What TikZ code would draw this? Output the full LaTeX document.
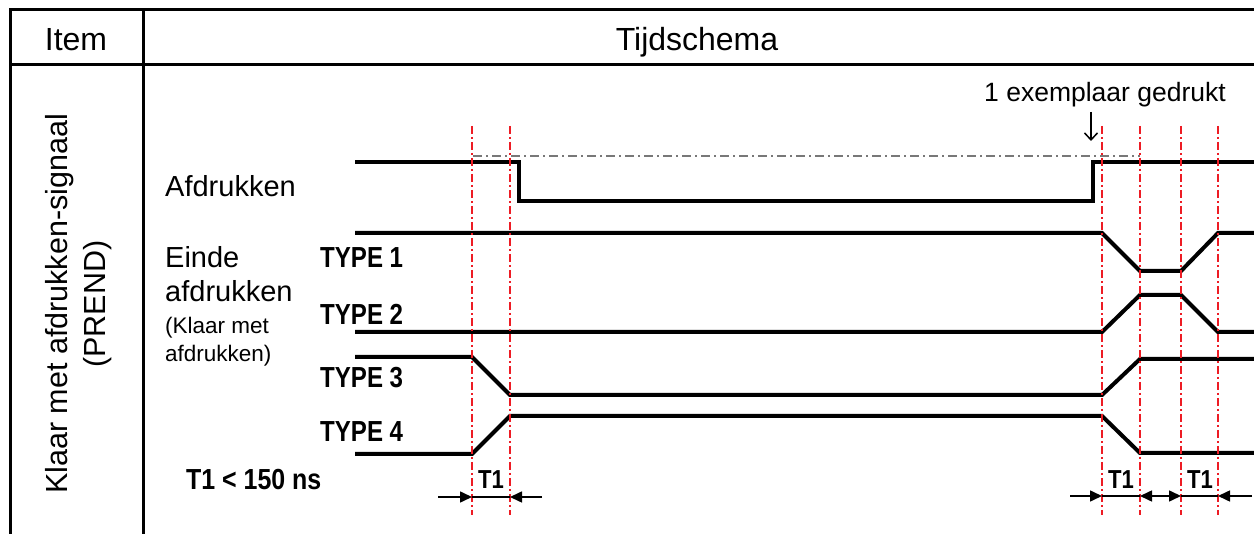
\documentclass[tikz,border=0pt]{standalone}
\usepackage{fontspec}
\setmainfont{Liberation Sans}
\usetikzlibrary{arrows.meta}
\definecolor{rd}{RGB}{237,28,36}
\definecolor{gy}{RGB}{120,120,120}
\begin{document}
\begin{tikzpicture}[x=1pt,y=-1pt,
  tbl/.style={line width=3pt},
  sig/.style={line width=4pt, line join=miter},
  redmark/.style={rd, line width=2.7pt, dash pattern=on 8pt off 3pt on 2pt off 3pt},
  refline/.style={gy, line width=1.3pt, dash pattern=on 9pt off 4pt on 2pt off 4pt},
  dimline/.style={line width=1.6pt},
  dimtip/.style={line width=1.6pt, -{Triangle[length=12pt,width=11pt]}},
  dimtwo/.style={line width=1.6pt, {Triangle[length=12pt,width=11pt]}-{Triangle[length=12pt,width=11pt]}},
  head/.style={inner sep=0pt, font=\fontsize{32}{38}\selectfont},
  big/.style={inner sep=0pt, font=\fontsize{29}{35}\selectfont},
  mid/.style={inner sep=0pt, font=\fontsize{22.5}{27}\selectfont},
  bold/.style={inner sep=0pt, font=\fontsize{29}{35}\selectfont\bfseries},
  tlab/.style={inner sep=0pt, font=\fontsize{26}{30}\selectfont\bfseries}
]
\useasboundingbox (0,0) rectangle (1254,534);
% table
\draw[tbl] (10,534) -- (10,10) -- (1254,10);
\draw[tbl] (10,65) -- (1254,65);
\draw[tbl] (143,10) -- (143,534);
\node[head, anchor=base] (item) at (76,51) {Item};
\node[head, anchor=base] (tijd) at (697,51) {Tijdschema};
\node[inner sep=0pt, font=\fontsize{30.5}{38}\selectfont, rotate=90, anchor=base] (klaar) at (67,304) {Klaar met afdrukken-signaal};
\node[inner sep=0pt, font=\fontsize{30.5}{38}\selectfont, rotate=90, anchor=base] (prend) at (105,304) {(PREND)};
% labels
\node[big, anchor=base west] (afdr) at (165,197) {Afdrukken};
\node[big, anchor=base west] (einde) at (165,268) {Einde};
\node[big, anchor=base west] (afdr2) at (165,302) {afdrukken};
\node[mid, anchor=base west] (kl1) at (165,334) {(Klaar met};
\node[mid, anchor=base west] (kl2) at (165,362) {afdrukken)};
\node[bold, anchor=base west] (t1) at (320,268) {\scalebox{0.83}[1]{TYPE 1}};
\node[bold, anchor=base west] (t2) at (320,325) {\scalebox{0.83}[1]{TYPE 2}};
\node[bold, anchor=base west] (t3) at (320,388) {\scalebox{0.83}[1]{TYPE 3}};
\node[bold, anchor=base west] (t4) at (320,442) {\scalebox{0.83}[1]{TYPE 4}};
\node[bold, anchor=base west] (tns) at (186,490) {\scalebox{0.86}[1]{T1 < 150 ns}};
\node[inner sep=0pt, font=\fontsize{26.5}{32}\selectfont, anchor=base east] (gedr) at (1226,102) {1 exemplaar gedrukt};
% reference dash-dot
\draw[refline] (473,156) -- (1140,156);
% signals
\draw[sig] (355,162) -- (519,162) -- (519,201) -- (1093,201) -- (1093,162) -- (1254,162);
\draw[sig] (355,233) -- (1102,233) -- (1140,271) -- (1181,271) -- (1218,233) -- (1254,233);
\draw[sig] (355,332) -- (1102,332) -- (1140,295) -- (1181,295) -- (1218,332) -- (1254,332);
\draw[sig] (355,357) -- (472,357) -- (510,395) -- (1102,395) -- (1140,359) -- (1254,359);
\draw[sig] (355,454) -- (472,454) -- (510,416) -- (1102,416) -- (1140,453) -- (1254,453);
% red markers
\foreach \x in {472,510,1102,1140,1181,1218}
  \draw[redmark] (\x,126) -- (\x,515);
% printed arrow
\coordinate (pa) at (1091,112);
\coordinate (pb) at (1091,141);
\draw[line width=1.5pt, -{Straight Barb[length=7pt,width=13pt]}] (pa) -- (pb);
% T1 dimensions
\coordinate (a0) at (438,497); \coordinate (a1) at (472,497);
\coordinate (a2) at (510,497); \coordinate (a3) at (542,497);
\draw[dimtip] (a0) -- (a1);
\draw[dimline] (a1) -- (a2);
\draw[dimtip] (a3) -- (a2);
\coordinate (b0) at (1070,496); \coordinate (b1) at (1102,496);
\coordinate (b2) at (1140,496); \coordinate (b3) at (1181,496);
\coordinate (b4) at (1218,496); \coordinate (b5) at (1252,496);
\draw[dimtip] (b0) -- (b1);
\draw[dimline] (b1) -- (b2);
\draw[dimtwo] (b2) -- (b3);
\draw[dimline] (b3) -- (b4);
\draw[dimtip] (b5) -- (b4);
\node[tlab, anchor=base] (lt1) at (491,489) {\scalebox{0.85}[1]{T1}};
\node[tlab, anchor=base] (lt2) at (1121,489) {\scalebox{0.85}[1]{T1}};
\node[tlab, anchor=base] (lt3) at (1200,489) {\scalebox{0.85}[1]{T1}};
\end{tikzpicture}
\end{document}
